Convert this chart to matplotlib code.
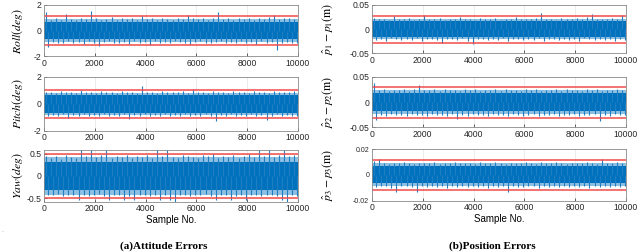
import numpy as np
import matplotlib
matplotlib.use("Agg")
import matplotlib.pyplot as plt

plt.rcParams['font.family'] = ['Liberation Sans', 'DejaVu Sans']
plt.rcParams['mathtext.fontset'] = 'stix'
plt.rcParams['axes.unicode_minus'] = False

# sample axis
n_samples = 10000
x_ticks = [0, 2000, 4000, 6000, 8000, 10000]

# peak envelope of each error signal (upper / lower extremes per 200-sample window)
roll_up = [1.42, 0.85, 0.95, 0.80, 1.30, 0.90, 0.85, 1.00, 0.90, 1.50,
           0.95, 0.85, 0.90, 1.05, 0.85, 0.95, 0.90, 1.00, 0.85, 1.10,
           0.90, 0.95, 0.85, 1.00, 0.90, 0.85, 1.00, 0.90, 1.20, 0.95,
           0.90, 1.00, 0.85, 0.95, 1.45, 0.90, 0.95, 0.85, 1.00, 0.90,
           0.95, 0.85, 1.00, 0.90, 1.05, 1.20, 0.90, 0.95, 1.00, 0.90]
roll_lo = [-1.30, -0.90, -0.95, -1.00, -0.85, -0.95, -0.90, -1.05, -0.85, -0.95,
           -1.20, -0.90, -0.85, -1.00, -0.95, -0.90, -1.05, -0.85, -0.95, -0.90,
           -1.10, -0.85, -0.95, -0.90, -1.00, -0.85, -0.90, -0.95, -1.05, -0.90,
           -0.85, -0.95, -1.00, -0.90, -0.85, -0.95, -0.90, -1.00, -0.85, -0.95,
           -0.90, -1.05, -0.85, -0.95, -0.90, -1.50, -0.95, -0.90, -1.00, -0.95]
pitch_up = [0.90, 0.85, 0.80, 0.95, 0.85, 0.90, 0.80, 1.05, 0.85, 0.90,
            0.80, 0.95, 0.85, 0.90, 0.80, 0.95, 0.85, 0.90, 0.80, 1.30,
            0.85, 0.90, 0.80, 0.95, 0.85, 0.90, 0.85, 0.95, 0.80, 1.10,
            0.85, 0.90, 0.80, 0.95, 0.85, 0.90, 0.80, 0.95, 0.85, 0.90,
            0.80, 0.95, 0.85, 0.90, 0.80, 0.95, 0.85, 0.90, 0.85, 0.95]
pitch_lo = [-0.90, -0.85, -0.95, -0.80, -1.10, -0.85, -0.90, -0.80, -0.95, -0.85,
            -0.90, -0.80, -0.95, -0.85, -0.90, -0.80, -1.15, -0.85, -0.90, -0.80,
            -0.95, -0.85, -0.90, -0.80, -0.95, -0.85, -0.90, -0.80, -0.95, -0.85,
            -0.90, -0.80, -0.95, -1.30, -0.85, -0.90, -0.80, -0.95, -0.85, -0.90,
            -0.80, -0.95, -0.85, -1.20, -0.90, -0.80, -0.95, -0.85, -0.90, -0.95]
yaw_up = [0.45, 0.40, 0.44, 0.38, 0.46, 0.42, 0.40, 0.58, 0.44, 0.58,
          0.42, 0.46, 0.58, 0.40, 0.44, 0.42, 0.46, 0.40, 0.44, 0.42,
          0.46, 0.40, 0.58, 0.44, 0.58, 0.42, 0.40, 0.46, 0.44, 0.42,
          0.40, 0.46, 0.44, 0.48, 0.40, 0.44, 0.42, 0.46, 0.40, 0.44,
          0.48, 0.42, 0.58, 0.44, 0.58, 0.42, 0.46, 0.58, 0.44, 0.46]
yaw_lo = [-0.42, -0.44, -0.40, -0.46, -0.42, -0.44, -0.55, -0.42, -0.46, -0.44,
          -0.40, -0.46, -0.55, -0.42, -0.44, -0.55, -0.46, -0.55, -0.42, -0.44,
          -0.46, -0.42, -0.55, -0.44, -0.55, -0.58, -0.42, -0.44, -0.46, -0.42,
          -0.44, -0.40, -0.46, -0.55, -0.42, -0.44, -0.55, -0.46, -0.42, -0.55,
          -0.44, -0.42, -0.46, -0.44, -0.42, -0.46, -0.55, -0.58, -0.44, -0.46]
p1_up = [0.024, 0.020, 0.022, 0.019, 0.028, 0.021, 0.020, 0.023, 0.019, 0.022,
         0.030, 0.021, 0.020, 0.024, 0.019, 0.022, 0.021, 0.025, 0.020, 0.022,
         0.019, 0.023, 0.021, 0.020, 0.024, 0.019, 0.022, 0.021, 0.025, 0.020,
         0.022, 0.021, 0.023, 0.033, 0.020, 0.022, 0.019, 0.024, 0.021, 0.020,
         0.023, 0.021, 0.025, 0.032, 0.020, 0.022, 0.021, 0.024, 0.020, 0.030]
p1_lo = [-0.022, -0.020, -0.024, -0.019, -0.021, -0.023, -0.020, -0.022, -0.019, -0.024,
         -0.021, -0.020, -0.023, -0.028, -0.021, -0.020, -0.022, -0.019, -0.024, -0.030,
         -0.021, -0.020, -0.023, -0.021, -0.022, -0.019, -0.024, -0.020, -0.021, -0.023,
         -0.020, -0.022, -0.019, -0.024, -0.021, -0.020, -0.023, -0.021, -0.022, -0.020,
         -0.024, -0.019, -0.021, -0.023, -0.020, -0.022, -0.021, -0.024, -0.020, -0.022]
p2_up = [0.038, 0.024, 0.026, 0.023, 0.025, 0.024, 0.027, 0.023, 0.026, 0.035,
         0.024, 0.025, 0.027, 0.023, 0.026, 0.024, 0.025, 0.023, 0.027, 0.024,
         0.026, 0.023, 0.025, 0.024, 0.027, 0.023, 0.026, 0.024, 0.025, 0.023,
         0.027, 0.024, 0.026, 0.023, 0.025, 0.024, 0.027, 0.023, 0.026, 0.024,
         0.025, 0.023, 0.027, 0.024, 0.026, 0.023, 0.025, 0.024, 0.027, 0.025]
p2_lo = [-0.035, -0.025, -0.027, -0.024, -0.026, -0.025, -0.028, -0.024, -0.026, -0.025,
         -0.027, -0.024, -0.026, -0.025, -0.028, -0.024, -0.034, -0.025, -0.027, -0.024,
         -0.026, -0.025, -0.028, -0.024, -0.026, -0.025, -0.027, -0.024, -0.026, -0.028,
         -0.025, -0.024, -0.027, -0.025, -0.026, -0.024, -0.028, -0.025, -0.026, -0.024,
         -0.027, -0.025, -0.026, -0.024, -0.037, -0.025, -0.027, -0.024, -0.026, -0.025]
p3_up = [0.0105, 0.0125, 0.0090, 0.0085, 0.0095, 0.0088, 0.0100, 0.0090, 0.0086, 0.0095,
         0.0090, 0.0088, 0.0098, 0.0086, 0.0092, 0.0090, 0.0100, 0.0088, 0.0094, 0.0090,
         0.0086, 0.0096, 0.0090, 0.0088, 0.0098, 0.0090, 0.0086, 0.0094, 0.0090, 0.0088,
         0.0100, 0.0090, 0.0086, 0.0096, 0.0090, 0.0088, 0.0098, 0.0090, 0.0086, 0.0094,
         0.0090, 0.0088, 0.0100, 0.0090, 0.0086, 0.0120, 0.0090, 0.0088, 0.0098, 0.0092]
p3_lo = [-0.0095, -0.0090, -0.0088, -0.0098, -0.0130, -0.0090, -0.0088, -0.0094, -0.0130, -0.0090,
         -0.0096, -0.0088, -0.0092, -0.0090, -0.0098, -0.0088, -0.0094, -0.0090, -0.0096, -0.0088,
         -0.0092, -0.0090, -0.0098, -0.0088, -0.0094, -0.0090, -0.0130, -0.0088, -0.0092, -0.0096,
         -0.0090, -0.0088, -0.0098, -0.0090, -0.0094, -0.0088, -0.0092, -0.0090, -0.0096, -0.0088,
         -0.0094, -0.0090, -0.0098, -0.0088, -0.0092, -0.0090, -0.0096, -0.0088, -0.0094, -0.0090]

# solid band half-width, fuzzy fringe half-width and red bound of each signal
core = [0.70, 0.66, 0.32, 0.0160, 0.0185, 0.0066]
fringe = [0.88, 0.84, 0.42, 0.0210, 0.0240, 0.0088]
bounds = [1.15, 1.05, 0.50, 0.028, 0.031, 0.0118]

ylims = [2, 2, 0.58, 0.05, 0.05, 0.02]
yticks = [[-2, 0, 2], [-2, 0, 2], [-0.5, 0, 0.5],
          [-0.05, 0, 0.05], [-0.05, 0, 0.05], [-0.02, 0, 0.02]]
ylabels = [r'$Roll(deg)$', r'$Pitch(deg)$', r'$Yaw(deg)$',
           r'$\hat{p}_1-p_1(\mathrm{m})$', r'$\hat{p}_2-p_2(\mathrm{m})$',
           r'$\hat{p}_3-p_3(\mathrm{m})$']
ups = [roll_up, pitch_up, yaw_up, p1_up, p2_up, p3_up]
los = [roll_lo, pitch_lo, yaw_lo, p1_lo, p2_lo, p3_lo]

W, H = 640, 252
# pixel boxes (x0, x1, y_top, y_bottom)
boxes = [(44, 298, 5, 56), (44, 298, 77, 130.5), (44, 298, 150, 201.7),
         (372, 626, 5, 53.3), (372, 626, 77, 127.3), (372, 626, 149, 200.7)]

blue = '#0072BD'
fig = plt.figure(figsize=(W / 100, H / 100), dpi=100)

for k in range(6):
    x0, x1, yt, yb = boxes[k]
    ax = fig.add_axes([x0 / W, 1 - yb / H, (x1 - x0) / W, (yb - yt) / H])
    up = np.array(ups[k])
    lo = np.array(los[k])
    x_up = np.linspace(60, n_samples - 140, len(up))
    x_lo = x_up + 100
    ax.fill_between([0, n_samples], -fringe[k], fringe[k], color=blue,
                    alpha=0.45, lw=0)
    ax.fill_between([0, n_samples], -core[k], core[k], color=blue, lw=0)
    ax.vlines(x_up, 0, up, color='#1f7dc4', lw=0.8)
    ax.vlines(x_lo, lo, 0, color='#1f7dc4', lw=0.8)
    ax.axhline(bounds[k], color='#f24a4a', lw=1.1)
    ax.axhline(-bounds[k], color='#f24a4a', lw=1.1)
    ax.set_xlim(0, n_samples)
    ax.set_ylim(-ylims[k], ylims[k])
    ax.set_xticks(x_ticks)
    ax.set_yticks(yticks[k])
    ax.set_yticklabels([('%g' % v) for v in yticks[k]])
    ax.grid(True, color='#e4e4e4', lw=0.5)
    ax.set_axisbelow(True)
    ax.tick_params(direction='in', length=2, width=0.5, labelsize=6.2, pad=2,
                   colors='#262626')
    if k == 5:
        ax.tick_params(axis='y', labelsize=5)
    for s in ax.spines.values():
        s.set_color('#8a8a8a')
        s.set_linewidth(0.6)
    ax.set_ylabel(ylabels[k], fontsize=8.5)
    if k < 3:
        ax.yaxis.set_label_coords(-19 / 254, 0.5)
    else:
        ax.yaxis.set_label_coords(-37 / 254, 0.5)
    if k in (2, 5):
        ax.set_xlabel('Sample No.', fontsize=7, labelpad=1)

fig.text(164 / W, 1 - 246 / H, '(a)Attitude Errors', ha='center', va='center',
         fontsize=8, fontweight='bold', family='Liberation Serif')
fig.text(492 / W, 1 - 246 / H, '(b)Position Errors', ha='center', va='center',
         fontsize=8, fontweight='bold', family='Liberation Serif')
fig.text(2 / W, 1 - 230 / H, '.', ha='center', va='center', fontsize=5,
         color='#999999')

fig.savefig('out.png', dpi=100)
